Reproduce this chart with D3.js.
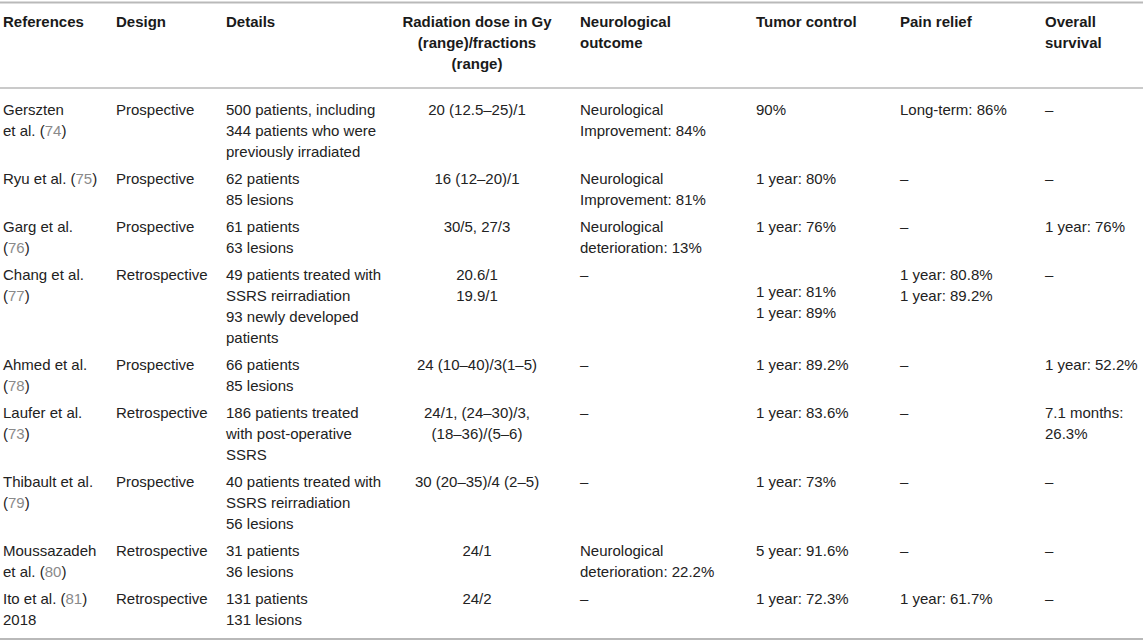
<!DOCTYPE html>
<html>
<head>
<meta charset="utf-8">
<script src="https://cdn.jsdelivr.net/npm/d3@7"></script>
<style>
  html, body { margin: 0; padding: 0; background: #fff; }
  svg { display: block; }
</style>
</head>
<body>
<svg id="chart" width="1143" height="643"></svg>
<script>
// ---------- DATA ----------
const columns = ["references", "design", "details", "dose", "neuro", "tumor", "pain", "survival"];
const headers = [
  ["References"],
  ["Design"],
  ["Details"],
  ["Radiation dose in Gy", "(range)/fractions", "(range)"],
  ["Neurological", "outcome"],
  ["Tumor control"],
  ["Pain relief"],
  ["Overall", "survival"]
];
const references = [
  ["Gerszten", "et al. ({74})"],
  ["Ryu et al. ({75})"],
  ["Garg et al.", "({76})"],
  ["Chang et al.", "({77})"],
  ["Ahmed et al.", "({78})"],
  ["Laufer et al.", "({73})"],
  ["Thibault et al.", "({79})"],
  ["Moussazadeh", "et al. ({80})"],
  ["Ito et al. ({81})", "2018"]
];
const designs = [
  ["Prospective"], ["Prospective"], ["Prospective"], ["Retrospective"], ["Prospective"],
  ["Retrospective"], ["Prospective"], ["Retrospective"], ["Retrospective"]
];
const details = [
  ["500 patients, including", "344 patients who were", "previously irradiated"],
  ["62 patients", "85 lesions"],
  ["61 patients", "63 lesions"],
  ["49 patients treated with", "SSRS reirradiation", "93 newly developed", "patients"],
  ["66 patients", "85 lesions"],
  ["186 patients treated", "with post-operative", "SSRS"],
  ["40 patients treated with", "SSRS reirradiation", "56 lesions"],
  ["31 patients", "36 lesions"],
  ["131 patients", "131 lesions"]
];
const doses = [
  ["20 (12.5–25)/1"],
  ["16 (12–20)/1"],
  ["30/5, 27/3"],
  ["20.6/1", "19.9/1"],
  ["24 (10–40)/3(1–5)"],
  ["24/1, (24–30)/3,", "(18–36)/(5–6)"],
  ["30 (20–35)/4 (2–5)"],
  ["24/1"],
  ["24/2"]
];
const neuro = [
  ["Neurological", "Improvement: 84%"],
  ["Neurological", "Improvement: 81%"],
  ["Neurological", "deterioration: 13%"],
  ["–"], ["–"], ["–"], ["–"],
  ["Neurological", "deterioration: 22.2%"],
  ["–"]
];
const tumor = [
  ["90%"], ["1 year: 80%"], ["1 year: 76%"], ["1 year: 81%", "1 year: 89%"],
  ["1 year: 89.2%"], ["1 year: 83.6%"], ["1 year: 73%"], ["5 year: 91.6%"], ["1 year: 72.3%"]
];
const pain = [
  ["Long-term: 86%"], ["–"], ["–"], ["1 year: 80.8%", "1 year: 89.2%"],
  ["–"], ["–"], ["–"], ["–"], ["1 year: 61.7%"]
];
const survival = [
  ["–"], ["–"], ["1 year: 76%"], ["–"], ["1 year: 52.2%"], ["7.1 months:", "26.3%"],
  ["–"], ["–"], ["–"]
];

// ---------- LAYOUT ----------
const W = 1143, H = 643;
const FONT = "'Liberation Sans', Arial, Helvetica, sans-serif";
const LINE = 21, ROWPAD = 6;
const headerBase = 27, firstBase = 115;
const ruleTop = 2.5, ruleHeader = 88, ruleBottom = 639;
const colX = d3.scaleOrdinal().domain(columns)
  .range([3, 116, 226, 477, 580, 756, 900, 1045]);
const colAnchor = d3.scaleOrdinal().domain(columns)
  .range(["start", "start", "start", "middle", "start", "start", "start", "start"]);
// special vertical shift (Chang et al. tumor control sits lower)
const cellShift = { "3-tumor": 17 };

const body = { references, design: designs, details, dose: doses, neuro, tumor, pain, survival };
const nRows = references.length;
const rowLines = d3.range(nRows).map(i => d3.max(columns, c => body[c][i].length));
const rowStart = [];
let acc = 0;
rowLines.forEach((n, i) => { rowStart.push(acc); acc += n * LINE + ROWPAD; });
const y = d3.scaleLinear().domain([0, 1]).range([firstBase, firstBase + 1]);

const svg = d3.select("#chart");

// rules
svg.append("g").selectAll("line")
  .data([{ y: ruleTop, w: 2 }, { y: ruleHeader, w: 1.5 }, { y: ruleBottom, w: 2 }])
  .join("line")
  .attr("x1", 0).attr("x2", W)
  .attr("y1", d => d.y).attr("y2", d => d.y)
  .attr("stroke", "#b9b9b9").attr("stroke-width", d => d.w);

// header
const hg = svg.append("g");
columns.forEach((c, ci) => {
  const t = hg.append("text")
    .attr("x", colX(c)).attr("y", headerBase)
    .attr("text-anchor", colAnchor(c))
    .attr("font-family", FONT).attr("font-size", 15).attr("font-weight", "bold")
    .attr("fill", "#1a1a1a");
  headers[ci].forEach((ln, li) => {
    t.append("tspan").attr("x", colX(c)).attr("y", headerBase + li * LINE).text(ln);
  });
});

// body
const bg = svg.append("g");
function addLine(parent, str) {
  // parse {nn} into grey citation numbers
  const parts = str.split(/(\{[^}]+\})/).filter(s => s.length);
  parts.forEach(p => {
    if (p.startsWith("{")) {
      parent.append("tspan").attr("fill", "#8a8a8a").text(p.slice(1, -1));
    } else {
      parent.append("tspan").text(p);
    }
  });
}
d3.range(nRows).forEach(i => {
  columns.forEach(c => {
    const lines = body[c][i];
    const shift = cellShift[i + "-" + c] || 0;
    const baseY = y(rowStart[i]) + shift;
    lines.forEach((ln, li) => {
      const t = bg.append("text")
        .attr("x", colX(c)).attr("y", baseY + li * LINE)
        .attr("text-anchor", colAnchor(c))
        .attr("font-family", FONT).attr("font-size", 15)
        .attr("fill", "#222");
      addLine(t, ln);
    });
  });
});
</script>
</body>
</html>
